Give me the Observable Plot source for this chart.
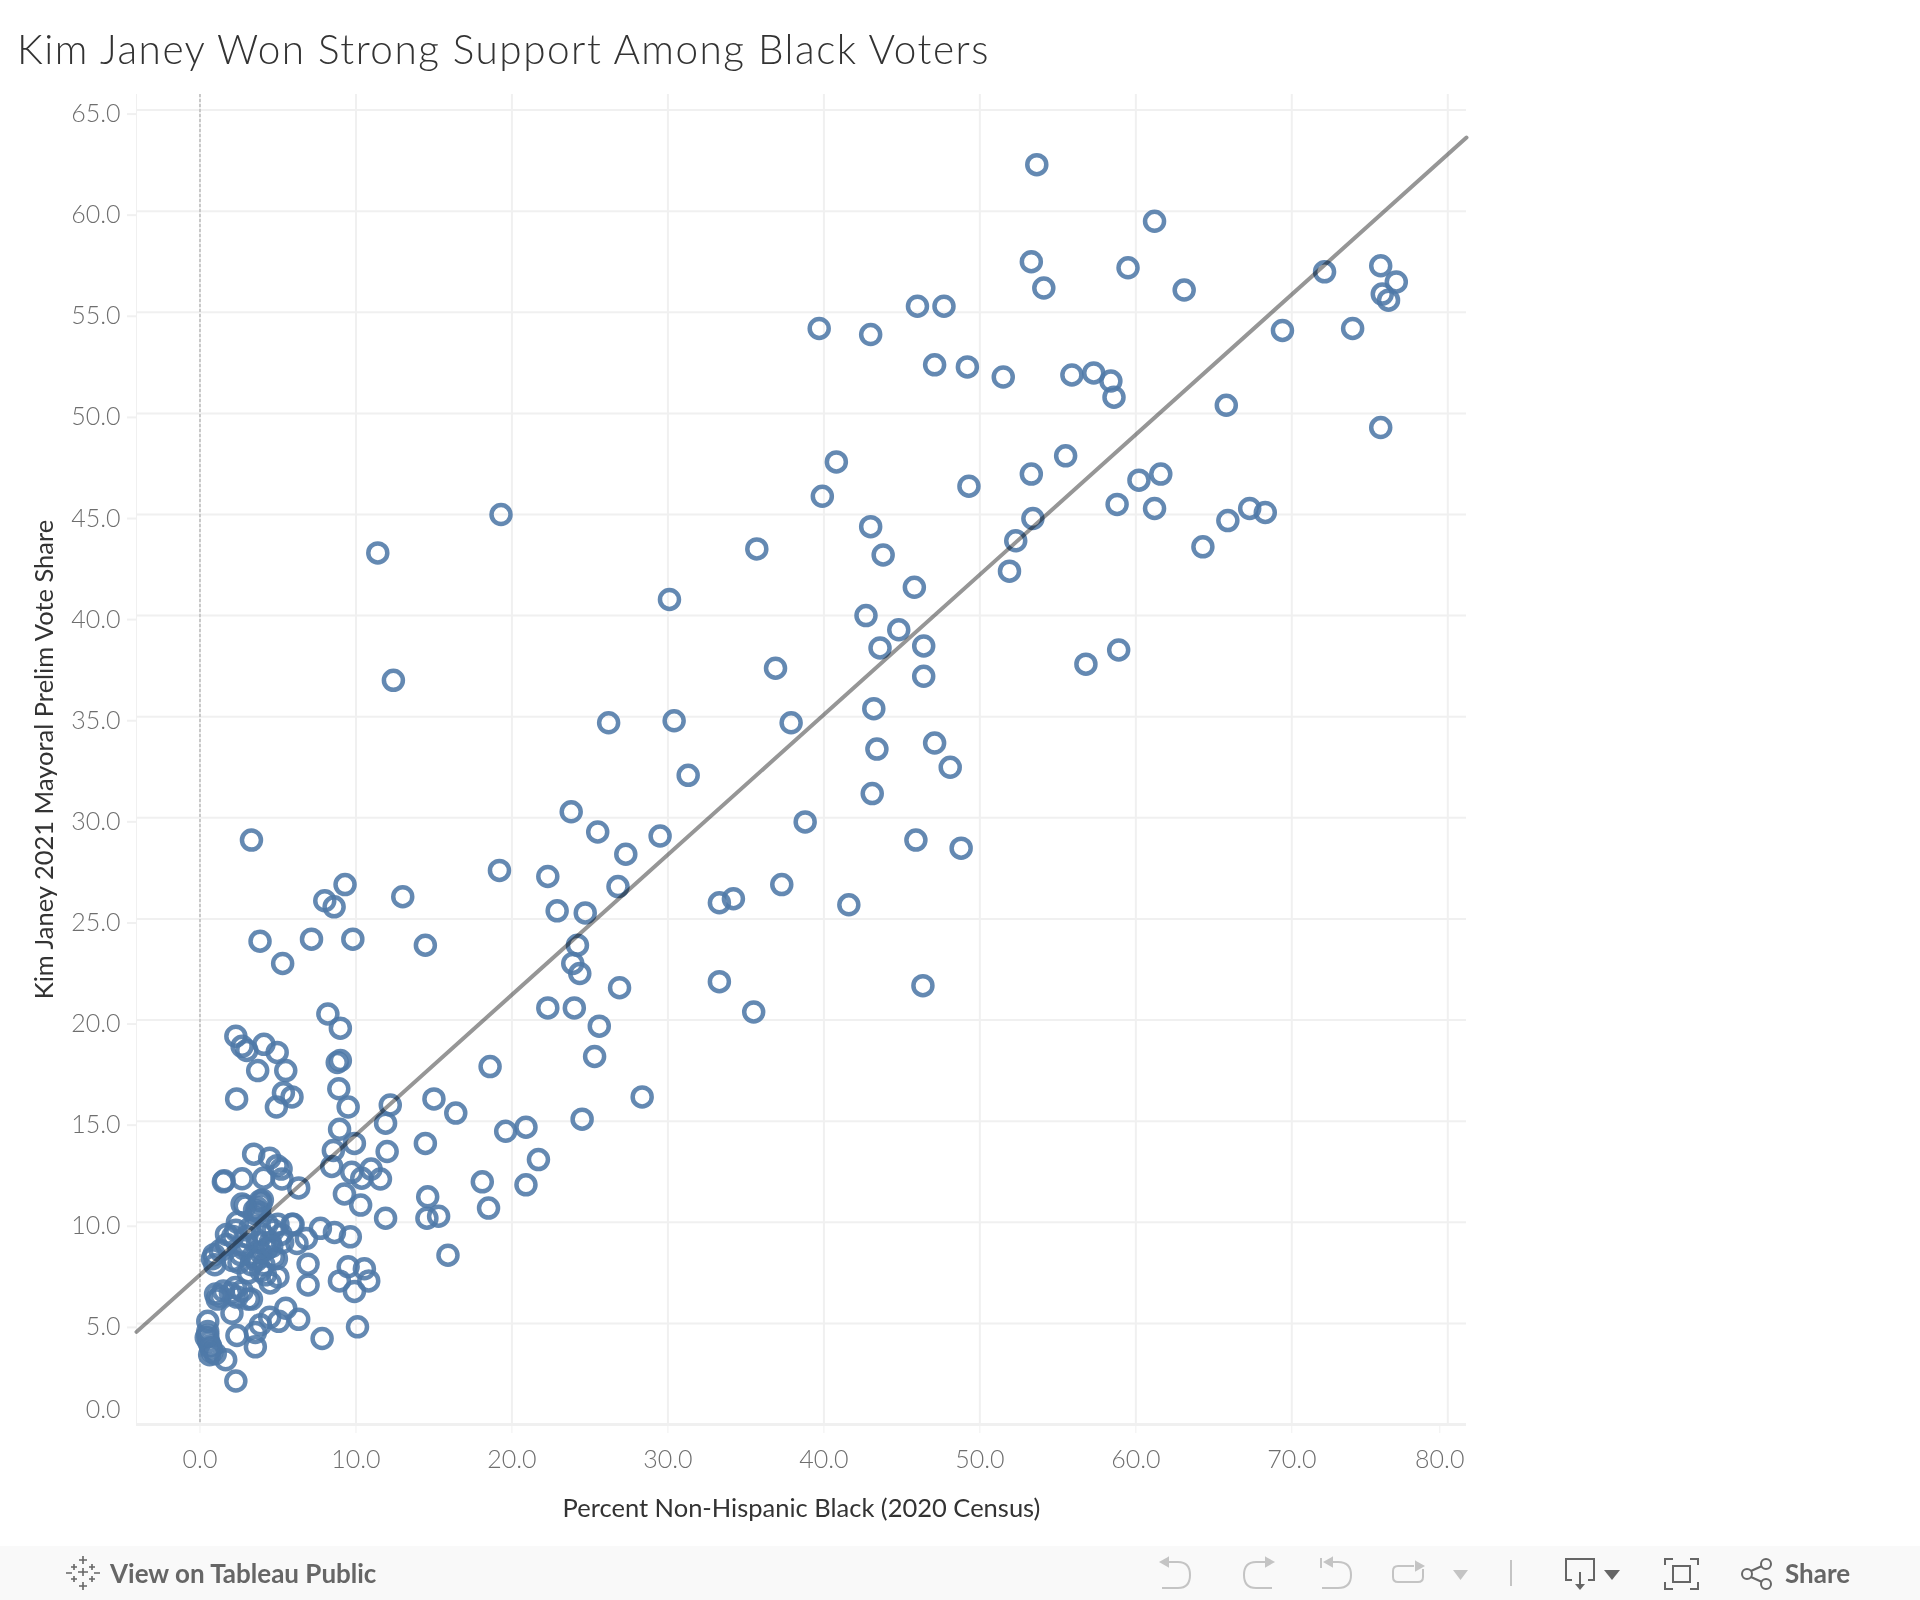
<!DOCTYPE html>
<html><head><meta charset="utf-8">
<script src="https://cdn.jsdelivr.net/npm/d3@7"></script>
<script src="https://cdn.jsdelivr.net/npm/@observablehq/plot@0.6"></script>
<style>
html,body{margin:0;background:#fff}
#page{position:relative;width:1920px;height:1600px;overflow:hidden;font-family:Lato,sans-serif}
#title{height:76px;box-sizing:border-box;padding:26px 0 0 17px;font-size:40.500px;font-weight:300;color:#333;line-height:46px;letter-spacing:1.5px;white-space:nowrap}
#chart svg{display:block}
#bar{position:absolute;left:0;top:1546px;width:1920px;height:54px;background:#f9f9f9}
#bar svg{position:absolute;left:0;top:0}
.bt{position:absolute;top:12px;font-size:26px;font-weight:700;line-height:30px;color:#666}
</style></head><body>
<div id="page">
<div id="title">Kim Janey Won Strong Support Among Black Voters</div>
<div id="chart"></div>
<div id="bar">
<svg width="1920" height="54" viewBox="0 1546 1920 54" fill="none">
<g stroke="#666" stroke-width="1.6">
<path d="M83 1556v8M79 1560h8M74 1564v6M71 1567h6M92 1564v6M89 1567h6M83 1568v8M78 1572h10M69 1569h0M66 1573h6M94 1573h6M74 1576v6M71 1579h6M92 1576v6M89 1579h6M83 1582v8M79 1586h8"/>
</g>
<g stroke="#c4c4c4" stroke-width="2">
<path d="M1162 1562h16q12 0 12 13t-12 13h-16"/><path d="M1168 1558l-7 4 7 4z" fill="#c4c4c4"/>
<path d="M1272 1562h-16q-12 0-12 13t12 13h16"/><path d="M1266 1558l7 4-7 4z" fill="#c4c4c4"/>
<path d="M1321 1558v10"/><path d="M1328 1562h10q13 0 13 13t-13 13h-16"/><path d="M1332 1558l-7 4 7 4z" fill="#c4c4c4"/>
<path d="M1414 1566h-16q-5 0-5 5v6q0 5 5 5h20q5 0 5-5v-8"/><path d="M1416 1562l7 4-7 4z" fill="#c4c4c4"/>
<path d="M1511 1560v26"/>
</g>
<path d="M1453 1570h15l-7.500 10z" fill="#c4c4c4"/>
<g stroke="#666" stroke-width="2">
<path d="M1572 1580h-6v-21h28v21h-6"/><path d="M1580 1572v14"/>
<path d="M1665 1565v-6h8M1690 1559h8v6M1698 1582v7h-8M1673 1589h-8v-7"/><rect x="1673" y="1566" width="17" height="16"/>
<circle cx="1747" cy="1574" r="5"/><circle cx="1766" cy="1564" r="5"/><circle cx="1766" cy="1584" r="5"/><path d="M1751 1571l11-5M1751 1577l11 5"/>
</g>
<path d="M1575 1584h10l-5 6z" fill="#666"/><path d="M1604 1570h16l-8 10z" fill="#666"/>
</svg>
<div class="bt" style="left:110px">View on Tableau Public</div>
<div class="bt" style="left:1785px">Share</div>
</div>
</div>
<script>
const xTicks = [0,10,20,30,40,50,60,70];
const xLastTick = [80];
const yTicks = [5,10,15,20,25,30,35,40,45,50,55,60,65];
const yZeroTick = [0];
const xTitle = "Percent Non-Hispanic Black (2020 Census)";
const yTitle = "Kim Janey 2021 Mayoral Prelim Vote Share";
const trendX = [-4.07, 81.2];
const trendY = [4.58, 63.64];
const blackPct = [
53.65,61.2,53.3,59.5,72.1,75.7,76.7,75.8,76.2,54.1,63.1,46,47.7,39.7,43,69.4,73.9,47.1,49.2,51.5,55.9,57.3,58.4,58.6,65.8,75.7,
55.5,40.8,53.3,60.2,61.6,49.3,39.9,58.8,61.2,67.3,68.3,65.9,19.3,53.4,43,52.3,43.8,11.4,35.7,64.3,51.9,45.8,30.1,42.7,44.8,43.6,46.4,58.9,56.8,36.9,46.4,12.4,
26.2,30.4,37.9,43.2,43.4,47.1,48.1,31.3,43.1,23.8,38.8,25.5,29.5,27.3,3.3,45.9,48.8,19.2,22.3,37.3,9.3,26.8,13,8,8.6,34.2,33.3,41.6,22.9,24.7,
3.85,7.15,9.8,14.45,24.2,5.3,23.9,24.35,33.3,26.9,46.35,8.2,22.3,24,35.5,9,25.6,2.3,4.1,2.7,3,4.95,25.3,8.8,9,18.6,3.7,5.5,8.9,5.35,2.35,5.9,15,28.35,4.9,9.5,12.2,16.4,11.9,24.5,19.6,20.9,
8.95,14.45,9.9,8.55,12,3.44,4.47,21.7,8.45,4.94,9.73,10.97,1.5,1.55,2.7,4.08,5.2,5.26,10.37,11.57,18.1,20.9,6.33,9.26,14.6,2.7,3.87,3.66,10.3,18.5,11.9,14.55,15.3,15.9,
7.72,8.62,9.64,5.97,6.22,6.82,6.93,6.93,9.5,10.54,8.94,10.82,9.9,
2.3,7.83,10.1,1.65,2.37,3.55,3.55,3.87,4.47,5.05,5.5,6.33,2.05,
0.5,0.5,0.4,0.55,0.66,0.77,0.62,0.98,0.5,0.7,
1,1.3,1.5,2.27,1.95,2.37,3.1,3.3,2.7,1.1,
0.9,0.8,0.95,1.3,1.7,1.7,2.1,2.4,2.3,2.9,2.1,2.5,2.8,3,3.2,3.5,3.6,3.8,4,3.9,3.4,3.3,3.1,3.6,3.9,4.1,4.2,4.5,5,4.7,4.9,4.3,4.5,4.7,5,4,3.7,3.9,5.3,5.2,5.9,4.3,4.6,3,2.6
];
const janeyShare = [
62.3,59.5,57.5,57.2,57,57.3,56.5,55.9,55.6,56.2,56.1,55.3,55.3,54.2,53.9,54.1,54.2,52.4,52.3,51.8,51.9,52,51.6,50.8,50.4,49.3,
47.9,47.6,47,46.7,47,46.4,45.9,45.5,45.3,45.3,45.1,44.7,45,44.8,44.4,43.7,43,43.1,43.3,43.4,42.2,41.4,40.8,40,39.3,38.4,38.5,38.3,37.6,37.4,37,36.8,
34.7,34.8,34.7,35.4,33.4,33.7,32.5,32.1,31.2,30.3,29.8,29.3,29.1,28.2,28.9,28.9,28.5,27.4,27.1,26.7,26.7,26.6,26.1,25.9,25.6,26,25.8,25.7,25.4,25.3,
23.9,24,24,23.7,23.7,22.8,22.8,22.3,21.9,21.6,21.7,20.3,20.6,20.6,20.4,19.6,19.7,19.2,18.8,18.7,18.5,18.4,18.2,17.9,18,17.7,17.5,17.5,16.6,16.4,16.1,16.2,16.1,16.2,15.7,15.7,15.8,15.4,14.9,15.1,14.5,14.7,
14.6,13.9,13.9,13.55,13.5,13.37,13.17,13.1,12.76,12.8,12.47,12.63,12,12.05,12.15,12.18,12.63,12.14,12.18,12.14,12,11.85,11.7,11.4,11.26,10.9,11.06,10.73,10.85,10.7,10.2,10.2,10.3,8.37,
9.7,9.5,9.28,9.9,8.95,9.2,7.93,6.9,7.8,7.7,7.1,7.1,6.58,
2.15,4.25,4.83,3.2,4.4,3.84,4.55,4.93,5.3,5.1,5.75,5.2,5.5,
5.1,4.6,4.3,4.1,3.9,3.6,3.45,3.5,4.4,3.8,
6.45,6.35,6.6,6.77,6.5,6.3,6.2,6.2,6.6,6.2,
8.4,8.2,7.9,8.6,8.9,9.4,9.3,10,9.6,10.8,8.1,8,8.7,9.3,9.7,10.6,10.4,10.5,11.1,10.9,8.3,7.9,7.5,8.1,7.6,7.9,7.4,7,7.3,8.3,8.2,8.7,9,9.6,9.9,9.4,9,8.5,9,9.4,9.9,9.9,8.8,8.9,8.4
];
const precincts = blackPct.map((x,i)=>({x,y:janeyShare[i]}));
const trend = trendX.map((x,i)=>({x,y:trendY[i]}));
const grid = "#f0f0f0", tickText = "#6e6e6e", axisFont = 25;
const chart = Plot.plot({
  width:1920, height:1470,
  marginLeft:136, marginRight:454, marginTop:18, marginBottom:122,
  style:{fontFamily:"Lato, sans-serif", background:"transparent", overflow:"visible"},
  x:{domain:[-4.07,81.2]},
  y:{domain:[0,65.77]},
  marks:[
    Plot.gridX([...xTicks,...xLastTick],{stroke:grid,strokeOpacity:1,strokeWidth:2}),
    Plot.gridY([...yTicks],{stroke:grid,strokeOpacity:1,strokeWidth:2}),
    Plot.ruleX([-4.07],{stroke:grid,strokeOpacity:1,strokeWidth:1}),
    Plot.ruleY(yZeroTick,{stroke:grid,strokeOpacity:1,strokeWidth:3}),
    Plot.axisX({ticks:xTicks,tickFormat:".1f",tickSize:9,tickPadding:17,stroke:grid,strokeOpacity:1,strokeWidth:1,
      color:tickText,fontSize:axisFont,fontWeight:300,label:xTitle,labelAnchor:"center",labelOffset:92,labelArrow:"none"}),
    Plot.axisX({ticks:xLastTick,tickFormat:".1f",tickSize:9,tickPadding:17,stroke:grid,strokeOpacity:1,strokeWidth:1,
      color:tickText,fontSize:axisFont,fontWeight:300,label:null,textAnchor:"middle",dx:-8}),
    Plot.axisY({ticks:yTicks,tickFormat:".1f",tickSize:9,tickPadding:7,stroke:grid,strokeOpacity:1,strokeWidth:2,dy:4,
      color:tickText,fontSize:axisFont,fontWeight:300,label:yTitle,labelAnchor:"center",labelOffset:102,labelArrow:"none"}),
    Plot.axisY({ticks:yZeroTick,tickFormat:".1f",tickSize:0,tickPadding:16,color:tickText,fontSize:axisFont,fontWeight:300,label:null,dy:-15}),
    Plot.ruleX([0],{stroke:"#bbb",strokeWidth:1.5,strokeDasharray:"3,2"}),
    Plot.dot(precincts,{x:"x",y:"y",r:9.5,stroke:"#4e79a7",strokeWidth:4.5,strokeOpacity:0.88,fill:"none"}),
    Plot.line(trend,{x:"x",y:"y",stroke:"#969696",strokeWidth:4,mixBlendMode:"multiply"})
  ]
});
document.getElementById("chart").append(chart);
chart.querySelectorAll('[aria-label="x-axis label"] text,[aria-label="y-axis label"] text').forEach(t=>{t.setAttribute("fill","#333");t.setAttribute("font-weight","400");t.setAttribute("font-size","25.5")});
</script>
</body></html>
